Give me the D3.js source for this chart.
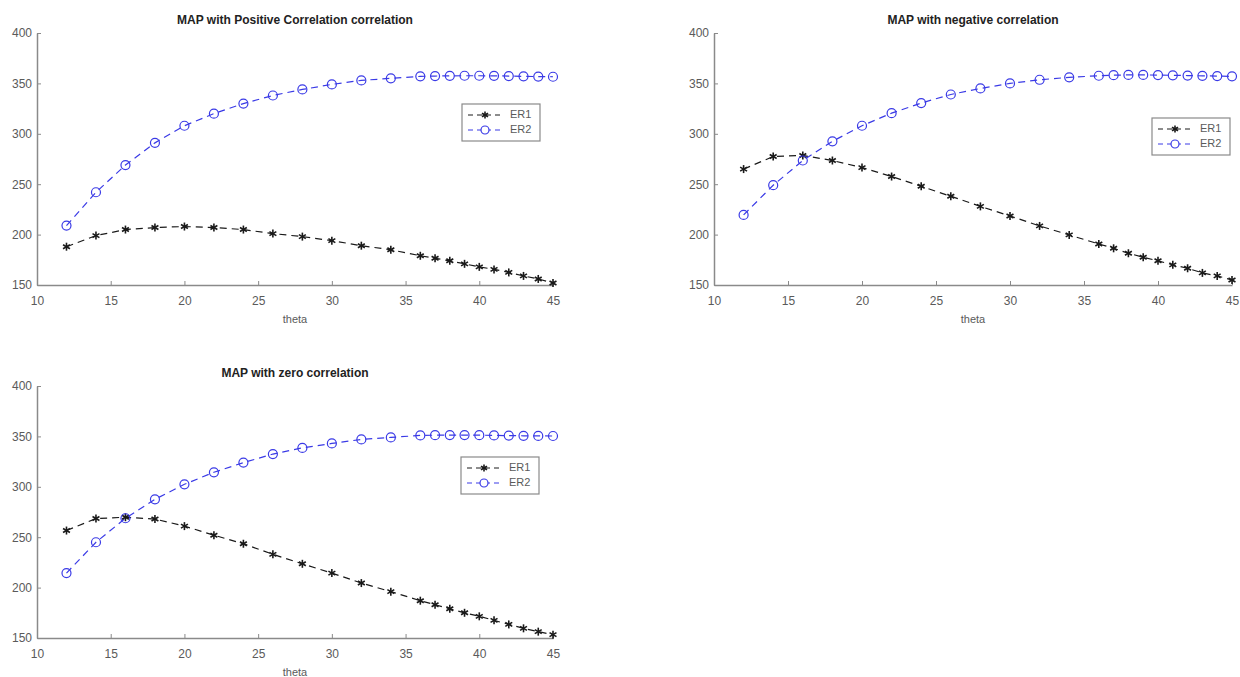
<!DOCTYPE html>
<html>
<head>
<meta charset="utf-8">
<script src="https://cdn.jsdelivr.net/npm/d3@7"></script>
<style>
  body { margin: 0; background: #fff; }
  svg { display: block; font-family: "Liberation Sans", Arial, sans-serif; }
</style>
</head>
<body>
<svg width="1240" height="677"></svg>
<script>
const theta = [12, 14, 16, 18, 20, 22, 24, 26, 28, 30, 32, 34, 36, 37, 38, 39, 40, 41, 42, 43, 44, 45];

const posER1 = [188, 199, 205, 207, 208, 207, 205, 201, 198, 194, 189, 185, 179, 176.5, 174, 171, 168, 165.5, 162.5, 159, 156, 152];
const posER2 = [209, 242, 269, 291, 308, 320, 330, 338, 344, 349, 353, 355, 357, 357.3, 357.5, 357.6, 357.6, 357.5, 357.3, 357, 356.8, 356.6];

const negER1 = [265, 277.5, 278.5, 273.5, 266.5, 257.6, 248, 238, 228, 218.5, 208.6, 199.7, 190.7, 186.4, 181.5, 177.5, 174, 170, 166.6, 162, 159, 155];
const negER2 = [219.5, 249, 273.5, 292.5, 308, 320.5, 330.5, 339, 345, 350, 353.6, 356, 357.6, 358.2, 358.4, 358.4, 358.3, 358, 357.8, 357.5, 357.3, 357];

const zeroER1 = [256.6, 268.5, 269.8, 268, 261, 252, 243.5, 233, 223.6, 214.4, 204.5, 196, 187, 183, 179, 175, 171.5, 167.5, 163.5, 159.6, 156.3, 153.3];
const zeroER2 = [214.4, 245, 268.8, 287.6, 302.5, 314.4, 324, 332.5, 338.6, 343, 347, 349, 351, 351.2, 351.3, 351.3, 351.2, 351, 350.8, 350.6, 350.5, 350.4];

const xTicks = [10, 15, 20, 25, 30, 35, 40, 45];
const yTicks = [150, 200, 250, 300, 350, 400];
const seriesNames = ["ER1", "ER2"];

const panels = [
  {title: "MAP with Positive Correlation correlation", left: 37, right: 553, top: 33, bottom: 285,
   er1: posER1, er2: posER2, legend: {x: 462, y: 104, w: 78, h: 37}},
  {title: "MAP with negative correlation", left: 714, right: 1232, top: 33, bottom: 285,
   er1: negER1, er2: negER2, legend: {x: 1152, y: 118, w: 78, h: 37}},
  {title: "MAP with zero correlation", left: 37, right: 553, top: 386, bottom: 638,
   er1: zeroER1, er2: zeroER2, legend: {x: 461, y: 457, w: 78, h: 37}}
];

const black = "#1a1a1a";
const blue = "#3a3ae6";
const axisColor = "#8a8a8a";
const labelColor = "#5a5a5a";

const svg = d3.select("svg");

function asterisk(g, cx, cy, r, color) {
  [0, 60, 120].forEach(a => {
    const rad = a * Math.PI / 180;
    g.append("line")
      .attr("x1", cx - r * Math.sin(rad)).attr("y1", cy - r * Math.cos(rad))
      .attr("x2", cx + r * Math.sin(rad)).attr("y2", cy + r * Math.cos(rad))
      .attr("stroke", color).attr("stroke-width", 1.6);
  });
}

panels.forEach(p => {
  const x = d3.scaleLinear().domain([10, 45]).range([p.left, p.right]);
  const y = d3.scaleLinear().domain([150, 400]).range([p.bottom, p.top]);
  const g = svg.append("g");

  // axes
  const xAxis = g.append("g")
    .attr("transform", `translate(0,${p.bottom})`)
    .call(d3.axisBottom(x).tickValues(xTicks).tickSizeInner(-4).tickSizeOuter(0).tickPadding(11));
  const yAxis = g.append("g")
    .attr("transform", `translate(${p.left},0)`)
    .call(d3.axisLeft(y).tickValues(yTicks).tickSizeInner(-4).tickSizeOuter(0).tickPadding(5));
  [xAxis, yAxis].forEach(a => {
    a.select(".domain").attr("stroke", axisColor).attr("stroke-width", 1.5);
    a.selectAll(".tick line").attr("stroke", axisColor);
    a.selectAll(".tick text").attr("fill", labelColor).style("font-size", "12px");
  });

  g.append("text")
    .attr("x", (p.left + p.right) / 2).attr("y", p.top - 12)
    .attr("text-anchor", "middle").attr("dominant-baseline", "middle")
    .attr("font-weight", "bold").attr("font-size", 12).attr("fill", "#222")
    .text(p.title);

  g.append("text")
    .attr("x", (p.left + p.right) / 2).attr("y", p.bottom + 35)
    .attr("text-anchor", "middle").attr("dominant-baseline", "middle")
    .attr("font-size", 11).attr("fill", labelColor)
    .text("theta");

  const line = d3.line().x(d => x(d[0])).y(d => y(d[1]));

  const d1 = theta.map((t, i) => [t, p.er1[i]]);
  const d2 = theta.map((t, i) => [t, p.er2[i]]);

  g.append("path").datum(d1).attr("d", line)
    .attr("fill", "none").attr("stroke", black).attr("stroke-width", 1.2)
    .attr("stroke-dasharray", "7,5");
  g.append("path").datum(d2).attr("d", line)
    .attr("fill", "none").attr("stroke", blue).attr("stroke-width", 1.2)
    .attr("stroke-dasharray", "7,5");

  d1.forEach(d => asterisk(g, x(d[0]), y(d[1]), 4, black));
  g.selectAll("circle.er2").data(d2).enter().append("circle")
    .attr("class", "er2")
    .attr("cx", d => x(d[0])).attr("cy", d => y(d[1])).attr("r", 4.5)
    .attr("fill", "none").attr("stroke", blue).attr("stroke-width", 1.2);

  // legend
  const L = p.legend;
  const lg = g.append("g").attr("transform", `translate(${L.x},${L.y})`);
  lg.append("rect").attr("width", L.w).attr("height", L.h)
    .attr("fill", "#fff").attr("stroke", axisColor).attr("stroke-width", 1.2);
  seriesNames.forEach((name, i) => {
    const cy = 11 + i * 15;
    const color = i === 0 ? black : blue;
    lg.append("line").attr("x1", 6).attr("x2", 40).attr("y1", cy).attr("y2", cy)
      .attr("stroke", color).attr("stroke-width", 1).attr("stroke-dasharray", "5,4");
    if (i === 0) asterisk(lg, 23, cy, 3.5, black);
    else lg.append("circle").attr("cx", 23).attr("cy", cy).attr("r", 4)
      .attr("fill", "#fff").attr("stroke", blue).attr("stroke-width", 1.2);
    lg.append("text").attr("x", 48).attr("y", cy).attr("dominant-baseline", "middle")
      .attr("font-size", 11).attr("fill", labelColor).text(name);
  });
});
</script>
</body>
</html>
